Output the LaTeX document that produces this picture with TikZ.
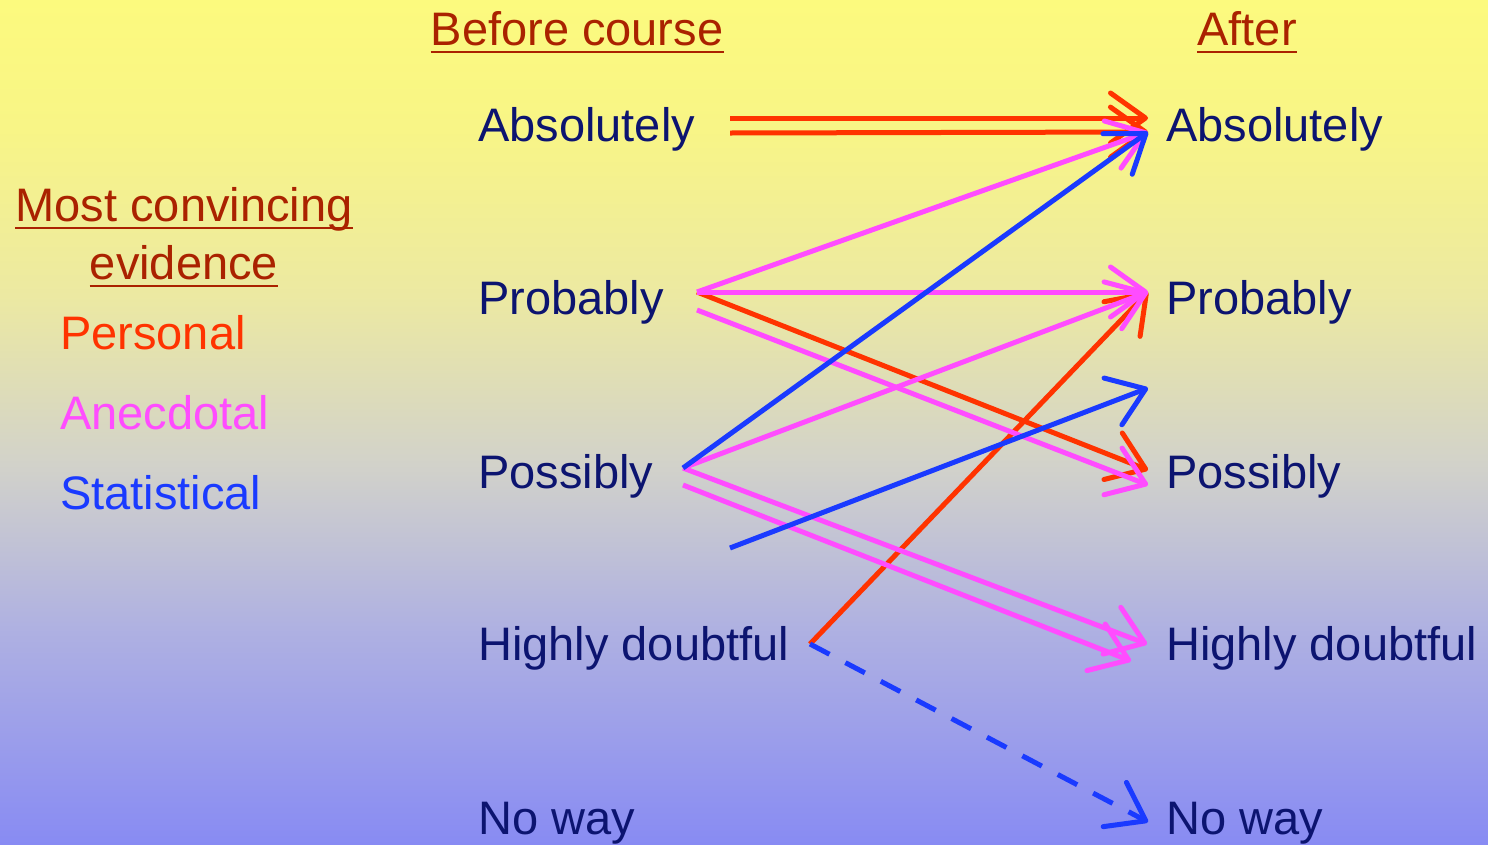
\documentclass[tikz,border=0pt]{standalone}
\usepackage{fontspec}
\setmainfont{Liberation Sans}
\usetikzlibrary{arrows.meta}
\definecolor{navy}{HTML}{0C1470}
\definecolor{hdred}{HTML}{AA2200}
\definecolor{personal}{HTML}{FF3300}
\definecolor{anecdotal}{HTML}{FF4CFF}
\definecolor{statistical}{HTML}{1A3AFF}
\definecolor{bgtop}{HTML}{FCFA7E}
\definecolor{bgtopb}{HTML}{F8F586}
\definecolor{bgmida}{HTML}{ECE9A2}
\definecolor{bgmidb}{HTML}{D2D2CA}
\definecolor{bglowa}{HTML}{AEB0E2}
\definecolor{bgbot}{HTML}{888BF3}
% the filled path covers 25bp--75bp of the shading
\pgfdeclareverticalshading{bgshade}{100bp}{color(0bp)=(bgbot); color(25bp)=(bgbot);
  color(37.5bp)=(bglowa); color(47.5bp)=(bgmidb); color(57.5bp)=(bgmida);
  color(67.5bp)=(bgtopb); color(75bp)=(bgtop); color(100bp)=(bgtop)}
\begin{document}
\begin{tikzpicture}[x=1pt,y=-1pt,
    lvl/.style={anchor=base west,inner sep=0pt,text=navy,font=\fontsize{47}{56}\selectfont},
    hdr/.style={anchor=base,inner sep=0pt,text=hdred,font=\fontsize{47}{56}\selectfont},
    key/.style={anchor=base west,inner sep=0pt,font=\fontsize{47}{56}\selectfont},
    uline/.style={hdred,line width=2.5pt},
    arr/.style={line width=5pt,-{Straight Barb[length=35pt,width=50pt,round]}}]
  \useasboundingbox (0,0) rectangle (1488,844);
  \shade[shading=bgshade] (0,0) rectangle (1488,844);

  % headers
  \node[hdr] (before) at (577,45) {Before course};
  \node[hdr] (after) at (1247,45) {After};
  \node[hdr] (most) at (184,221) {Most convincing};
  \node[hdr] (evid) at (184,279) {evidence};
  \foreach \h in {before,after,most,evid}
    \draw[uline] ([yshift=-7pt]\h.base west) -- ([yshift=-7pt]\h.base east);

  % key
  \node[key,text=personal] (kpers) at (60,349) {Personal};
  \node[key,text=anecdotal] (kanec) at (60,429) {Anecdotal};
  \node[key,text=statistical] (kstat) at (60,509) {Statistical};

  % levels
  \foreach \n/\t/\y in {abs/Absolutely/141,prob/Probably/314,poss/Possibly/488,
      hd/Highly doubtful/660,no/No way/834}{
    \node[lvl] (\n L) at (478,\y) {\t};
    \node[lvl] (\n R) at (1166,\y) {\t};
  }

  % arrow ends
  \coordinate (absA) at (730,118);
  \coordinate (absB) at (730,133);
  \coordinate (probA) at (697,292);
  \coordinate (probB) at (697,310);
  \coordinate (possA) at (683,468);
  \coordinate (possB) at (683,485);
  \coordinate (midA) at (730,548);
  \coordinate (hdA) at (810,644);
  \coordinate (absTa) at (1148,118);
  \coordinate (absTb) at (1148,132);
  \coordinate (probT) at (1148,292);
  \coordinate (midT) at (1148,388);
  \coordinate (possTa) at (1148,470);
  \coordinate (possTb) at (1148,485);
  \coordinate (hdTa) at (1147,644);
  \coordinate (hdTb) at (1131,661);
  \coordinate (noT) at (1148,822);

  % personal
  \draw[arr,personal] (absA) -- (absTa);
  \draw[arr,personal] (absB) -- (absTb);
  \draw[arr,personal] (probA) -- (possTa);
  \draw[arr,personal] (hdA) -- (probT);
  % anecdotal
  \draw[arr,anecdotal] (probA) -- (absTb);
  \draw[arr,anecdotal] (probA) -- (probT);
  \draw[arr,anecdotal] (probB) -- (possTb);
  \draw[arr,anecdotal] (possA) -- (probT);
  \draw[arr,anecdotal] (possA) -- (hdTa);
  \draw[arr,anecdotal] (possB) -- (hdTb);
  % statistical
  \draw[arr,statistical] (possA) -- (absTb);
  \draw[arr,statistical] (midA) -- (midT);
  \draw[arr,statistical,dash pattern=on 22pt off 18pt] (hdA) -- (noT);
\end{tikzpicture}
\end{document}
